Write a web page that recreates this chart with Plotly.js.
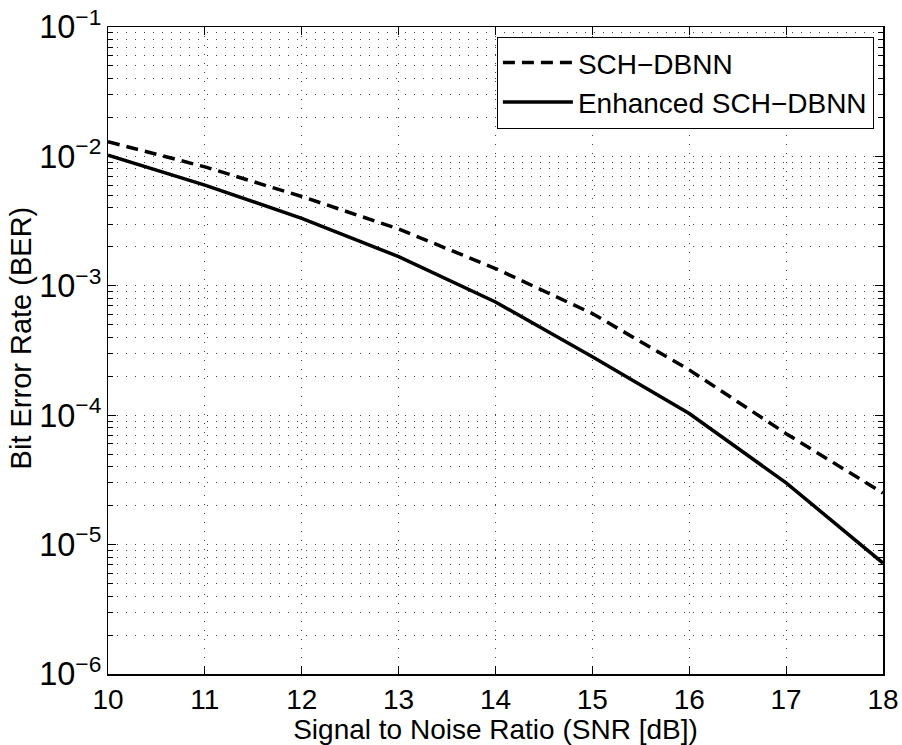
<!DOCTYPE html>
<html>
<head>
<meta charset="utf-8">
<script src="https://cdn.plot.ly/plotly-3.0.1.min.js"></script>
<style>html,body{margin:0;padding:0;background:#fff;}#chart{width:902px;height:745px;}</style>
</head>
<body>
<div id="chart"></div>
<script>
// SNR values (dB)
const snr = [10, 11, 12, 13, 14, 15, 16, 17, 18];
// BER, SCH-DBNN (dashed)
const berSCH = [0.0130, 0.0083, 0.0049, 0.00275, 0.00136, 0.00061, 0.000224, 0.000072, 0.000025];
// BER, Enhanced SCH-DBNN (solid)
const berEnh = [0.0102, 0.0060, 0.00332, 0.00168, 0.00075, 0.000283, 0.000103, 0.000030, 0.0000072];
const seriesNames = ['SCH\u2212DBNN', 'Enhanced SCH\u2212DBNN'];
const xTitle = 'Signal to Noise Ratio (SNR [dB])';
const yTitle = 'Bit Error Rate (BER)';

const font = 'Liberation Sans, Arial, Helvetica, sans-serif';
const gridDash = '1px,8px';
const gridColor = '#444';

const traces = [
  {x: snr, y: berSCH, type: 'scatter', mode: 'lines', name: seriesNames[0],
   line: {color: '#000', width: 3.5, dash: '12px,7px'}},
  {x: snr, y: berEnh, type: 'scatter', mode: 'lines', name: seriesNames[1],
   line: {color: '#000', width: 3.5}}
];

const layout = {
  width: 902, height: 745,
  margin: {l: 108, r: 19, t: 27, b: 71},
  paper_bgcolor: '#fff', plot_bgcolor: '#fff',
  font: {family: font, color: '#000', size: 28},
  showlegend: true,
  legend: {x: 0.988, y: 0.985, xanchor: 'right', yanchor: 'top',
           bgcolor: '#fff', bordercolor: '#000', borderwidth: 1.2,
           itemwidth: 70,
           font: {family: font, size: 28, color: '#000'},
           tracegroupgap: 0},
  xaxis: {
    range: [10, 18], dtick: 1, tick0: 10,
    showline: true, linecolor: '#000', linewidth: 1.5, mirror: 'ticks',
    ticks: 'inside', ticklen: 8, tickwidth: 1.2, tickcolor: '#000',
    showgrid: true, gridcolor: gridColor, griddash: gridDash, gridwidth: 1,
    zeroline: false,
    tickfont: {family: font, size: 28, color: '#000'},
    title: {text: xTitle, font: {family: font, size: 28, color: '#000'}, standoff: 2}
  },
  yaxis: {
    type: 'log', range: [-6, -1], dtick: 1,
    exponentformat: 'power',
    showline: true, linecolor: '#000', linewidth: 1.5, mirror: 'ticks',
    ticks: 'inside', ticklen: 8, tickwidth: 1.2, tickcolor: '#000',
    showgrid: true, gridcolor: gridColor, griddash: gridDash, gridwidth: 1,
    zeroline: false,
    tickfont: {family: font, size: 26, color: '#000'},
    minor: {dtick: 'D1', ticks: 'inside', ticklen: 5, tickcolor: '#000', tickwidth: 1,
            showgrid: true, gridcolor: gridColor, griddash: gridDash, gridwidth: 1}
  },
  annotations: [{
    text: yTitle, textangle: -90, showarrow: false,
    xref: 'paper', yref: 'paper', x: -0.112, y: 0.519,
    xanchor: 'center', yanchor: 'middle',
    font: {family: font, size: 29, color: '#000'}
  }]
};

Plotly.newPlot('chart', traces, layout, {displayModeBar: false, staticPlot: true});
</script>
</body>
</html>
